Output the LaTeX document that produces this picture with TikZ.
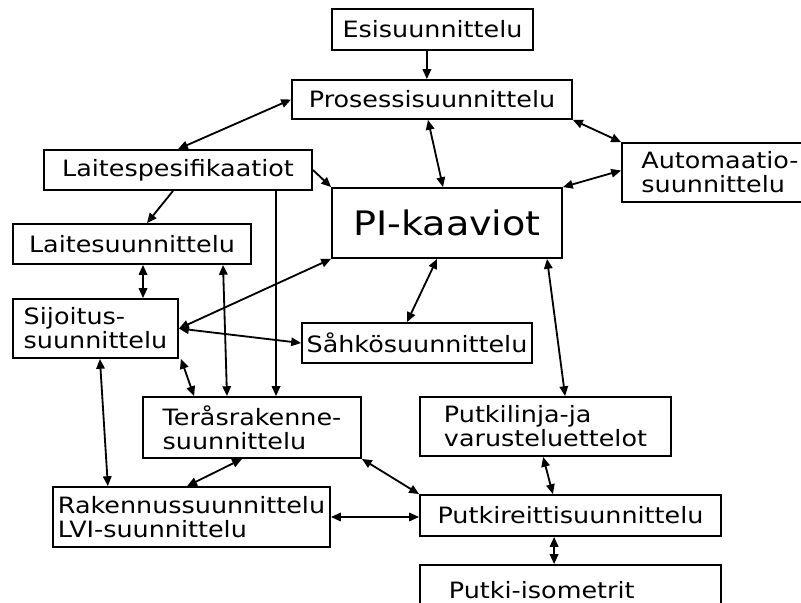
\documentclass[tikz,border=0pt]{standalone}
\usepackage{fontspec}
\setmainfont{DejaVu Sans}[FakeStretch=1.13]
\usetikzlibrary{arrows.meta}
\tikzset{
  box/.style={draw,line width=1.3pt,inner sep=0pt,align=left,font=\fontsize{16}{17}\selectfont},
  bigbox/.style={box,font=\fontsize{24}{26}\selectfont},
  dlink/.style={line width=1.3pt,{Triangle[length=7pt,width=6pt]}-{Triangle[length=7pt,width=6pt]}},
  slink/.style={line width=1.3pt,-{Triangle[length=7pt,width=6pt]}}
}
\begin{document}
\begin{tikzpicture}[x=0.025cm,y=-0.025cm]
\useasboundingbox[fill=white] (0,0) rectangle (801,603);
\node[box,minimum width=5.025cm,minimum height=1.025cm] (esi) at (432.5,29.5) {Esisuunnittelu};
\node[box,minimum width=7cm,minimum height=0.975cm] (proses) at (432,99.5) {Prosessisuunnittelu};
\node[box,minimum width=6.7cm,minimum height=1cm] (laitespes) at (178,170) {Laitespesifikaatiot};
\node[bigbox,minimum width=5.75cm,minimum height=1.75cm] (pi) at (447,223) {PI-kaaviot};
\node[box,minimum width=4.9cm,minimum height=1.475cm] (auto) at (720,172.5) {Automaatio-\\suunnittelu};
\node[box,minimum width=5.95cm,minimum height=1cm] (laitesuun) at (132,244) {Laitesuunnittelu};
\node[box,minimum width=4.125cm,minimum height=1.475cm] (sijoitus) at (95.5,328.5) {Sijoitus-\\suunnittelu};
\node[box,minimum width=5.75cm,minimum height=1cm] (sahko) at (417,343) {Såhkösuunnittelu};
\node[box,minimum width=5.45cm,minimum height=1.525cm] (teras) at (252,427.5) {Teråsrakenne-\\suunnittelu};
\node[box,minimum width=6.275cm,minimum height=1.475cm] (putkilinja) at (545.5,426.5) {Putkilinja-ja\\varusteluettelot};
\node[box,minimum width=6.925cm,minimum height=1.5cm] (rakennus) at (191.5,517) {Rakennussuunnittelu\\LVI-suunnittelu};
\node[box,minimum width=7.525cm,minimum height=1.025cm] (putkireitti) at (570.5,515.5) {Putkireittisuunnittelu};
\node[box,minimum height=1.25cm,inner xsep=0.725cm,text width=6.075cm] (iso) at (570.5,590) {Putki-isometrit};
\draw[slink] ([xshift=-0.14cm]esi.south) -- ([xshift=-0.14cm]esi.south |- proses.north);
\draw[dlink] (proses.west) -- (laitespes.north);
\draw[dlink] ([xshift=-0.1cm]proses.south) -- ([xshift=-0.1cm]pi.north);
\draw[dlink] (proses.south east) -- (auto.north west);
\draw[dlink] ([yshift=0.05cm]auto.west) -- (pi.north east);
\draw[slink] (laitespes.east) -- (pi.north west);
\draw[slink] ([xshift=-0.125cm]laitespes.south) -- ([xshift=0.375cm]laitesuun.north);
\draw[slink] ([xshift=2.45cm]laitespes.south) -- ([xshift=2.45cm]laitespes.south |- teras.north);
\draw[dlink] ([xshift=0.275cm]laitesuun.south) -- ([xshift=0.275cm]laitesuun.south |- sijoitus.north);
\draw[dlink] ([xshift=2.275cm]laitesuun.south) -- ([xshift=-0.625cm]teras.north);
\draw[dlink] (sijoitus.east) -- (pi.south west);
\draw[dlink] (sijoitus.east) -- (sahko.west);
\draw[dlink] ([xshift=0.05cm]sijoitus.south east) -- ([xshift=1.3cm]teras.north west);
\draw[dlink] ([xshift=0.11cm]sijoitus.south) -- ([xshift=-2.09cm]rakennus.north);
\draw[dlink] ([xshift=-0.25cm]pi.south) -- ([xshift=-0.25cm]sahko.north);
\draw[dlink] ([xshift=2.5cm]pi.south) -- ([xshift=0.49cm]putkilinja.north);
\draw[dlink] ([xshift=-0.25cm]teras.south) -- ([xshift=-0.11cm]rakennus.north);
\draw[dlink] (teras.south east) -- (putkireitti.north west);
\draw[dlink] (rakennus.east) -- (rakennus.east -| putkireitti.west);
\draw[dlink] ([xshift=-0.06cm]putkilinja.south) -- ([xshift=-0.44cm]putkireitti.north);
\draw[dlink] ([xshift=-0.41cm]putkireitti.south) -- ([xshift=-0.41cm]putkireitti.south |- iso.north);
\end{tikzpicture}
\end{document}
